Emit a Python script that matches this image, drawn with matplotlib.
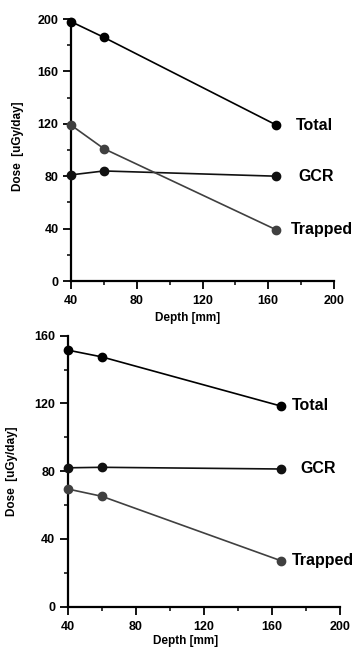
import matplotlib
matplotlib.use("Agg")
import matplotlib.pyplot as plt
from matplotlib.ticker import MultipleLocator

plt.rcParams['font.family'] = ['Liberation Sans', 'DejaVu Sans']
plt.rcParams['font.weight'] = 'bold'

depth = [40, 60, 165]

# Top panel
top_total = [198, 186, 119]
top_gcr = [81, 84, 80]
top_trapped = [119, 101, 39]

# Bottom panel
bot_total = [151.5, 147.5, 118.5]
bot_gcr = [82, 82.3, 81.3]
bot_trapped = [69.5, 65.2, 27.2]

series_names = ["Total", "GCR", "Trapped"]
colors = ["#000000", "#111111", "#404040"]

fig = plt.figure(figsize=(3.58, 6.53), dpi=100)

ax1 = fig.add_axes([71/358, 1-281/653, (334-71)/358, (281-19)/653])
ax2 = fig.add_axes([67.7/358, 1-606.7/653, (340.3-67.7)/358, (606.7-335.7)/653])

def style(ax, ymax, ylab_xy, xlab_xy):
    ax.set_xlim(40, 200)
    ax.set_ylim(0, ymax)
    for s in ['top', 'right']:
        ax.spines[s].set_visible(False)
    for s in ['left', 'bottom']:
        ax.spines[s].set_linewidth(1.6)
    ax.xaxis.set_major_locator(MultipleLocator(40))
    ax.xaxis.set_minor_locator(MultipleLocator(20))
    ax.yaxis.set_major_locator(MultipleLocator(40))
    ax.yaxis.set_minor_locator(MultipleLocator(20))
    ax.tick_params(which='major', length=5.5, width=1.3, labelsize=9)
    ax.tick_params(which='minor', length=3, width=1.1)
    ax.tick_params(axis='x', which='major', pad=4.5)
    ax.tick_params(axis='y', which='major', pad=3.5)
    for lab in ax.get_xticklabels() + ax.get_yticklabels():
        lab.set_fontweight('bold')
    ax.set_xlabel("Depth [mm]", fontsize=8.5, fontweight='bold')
    ax.set_ylabel("Dose  [uGy/day]", fontsize=8.5, fontweight='bold')
    ax.xaxis.set_label_coords(*xlab_xy)
    ax.yaxis.set_label_coords(*ylab_xy)
    ax.xaxis.label.set_va('center')
    ax.yaxis.label.set_va('center')

def draw(ax, data, offsets):
    for name, ys, c, off in zip(series_names, data, colors, offsets):
        ax.plot(depth, ys, color=c, lw=1.2, marker='o', ms=6, clip_on=False, zorder=3)
        ax.annotate(name, xy=(depth[-1], ys[-1]), xytext=(off, 0),
                    textcoords='offset points', ha='left', va='center',
                    fontsize=11.5, fontweight='bold', color='black',
                    annotation_clip=False)

draw(ax1, [top_total, top_gcr, top_trapped], [14, 15.5, 10.5])
draw(ax2, [bot_total, bot_gcr, bot_trapped], [8, 14, 8])
style(ax1, 200, (-0.20, 0.515), (0.445, -0.141))
style(ax2, 160, (-0.204, 0.498), (0.434, -0.127))

fig.savefig("out.png", dpi=100)
